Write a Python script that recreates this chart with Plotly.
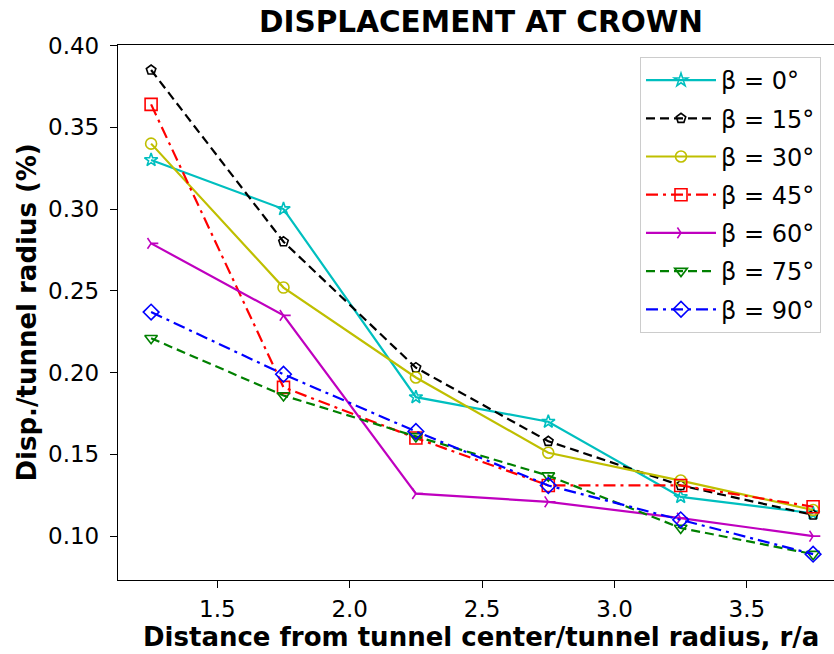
import plotly.graph_objects as go

r_over_a = [1.25, 1.75, 2.25, 2.75, 3.25, 3.75]

beta_labels = ["β = 0°", "β = 15°", "β = 30°", "β = 45°", "β = 60°", "β = 75°", "β = 90°"]

disp_b0 = [0.330, 0.300, 0.185, 0.170, 0.124, 0.114]
disp_b15 = [0.385, 0.280, 0.203, 0.158, 0.131, 0.113]
disp_b30 = [0.340, 0.252, 0.197, 0.151, 0.134, 0.116]
disp_b45 = [0.364, 0.191, 0.160, 0.131, 0.131, 0.118]
disp_b60 = [0.279, 0.235, 0.126, 0.121, 0.111, 0.100]
disp_b75 = [0.221, 0.186, 0.161, 0.137, 0.105, 0.089]
disp_b90 = [0.237, 0.199, 0.164, 0.131, 0.110, 0.089]

series = [disp_b0, disp_b15, disp_b30, disp_b45, disp_b60, disp_b75, disp_b90]

colors = ["#00BFBF", "#000000", "#BFBF00", "#FF0000", "#BF00BF", "#008000", "#0000FF"]
dashes = ["solid", "9px,5px", "solid", "12px,5px,3px,5px", "solid", "9px,5px", "12px,5px,3px,5px"]
symbols = ["star-open", "pentagon-open", "circle-open", "square-open", "y-right-open", "triangle-down-open", "diamond-open"]
sizes = [10, 10, 11, 12, 9, 11, 12]

FONT = "DejaVu Sans"

fig = go.Figure()
for i, (lab, ys) in enumerate(zip(beta_labels, series)):
    fig.add_trace(go.Scatter(
        x=r_over_a, y=ys, name=lab, mode="lines+markers",
        legendgroup=f"g{i}",
        line=dict(color=colors[i], width=2.2, dash=dashes[i]),
        marker=dict(symbol=symbols[i], size=sizes[i], color=colors[i],
                    line=dict(color=colors[i], width=1.6)),
    ))

W, H = 834, 654
L, R, T, B = 118, 0, 45, 74
plot_w = W - L - R
px_per_unit = 264.8
x0 = 1.125
x1 = x0 + plot_w / px_per_unit

fig.update_layout(
    width=W, height=H,
    margin=dict(l=L, r=R, t=T, b=B),
    paper_bgcolor="white", plot_bgcolor="white",
    font=dict(family=FONT, color="black"),
    title=dict(text="<b>DISPLACEMENT AT CROWN</b>", x=481 / W, xanchor="center",
               xref="container", y=1 - 22 / H, yref="container", yanchor="middle",
               font=dict(family=FONT, size=29.5, color="black")),
    showlegend=True,
    legend=dict(x=(640 - L) / plot_w, y=(580 - 57) / 535, xanchor="left", yanchor="top",
                bgcolor="rgba(255,255,255,0.8)", bordercolor="#cccccc", borderwidth=1,
                font=dict(family=FONT, size=24, color="black"),
                tracegroupgap=4, itemwidth=70, traceorder="grouped"),
    xaxis=dict(range=[x0, x1], tickvals=[1.5, 2.0, 2.5, 3.0, 3.5],
               ticktext=["1.5", "2.0", "2.5", "3.0", "3.5"],
               showgrid=False, zeroline=False, showline=True, linecolor="black", linewidth=1.3,
               mirror=True, ticks="outside", ticklen=7, tickwidth=1.3, tickcolor="black",
               tickfont=dict(family=FONT, size=23, color="black"), ticklabelstandoff=1),
    yaxis=dict(range=[0.0732, 0.4003], tickvals=[0.10, 0.15, 0.20, 0.25, 0.30, 0.35, 0.40],
               ticktext=["0.10", "0.15", "0.20", "0.25", "0.30", "0.35", "0.40"],
               showgrid=False, zeroline=False, showline=True, linecolor="black", linewidth=1.3,
               mirror=False, ticks="outside", ticklen=7, tickwidth=1.3, tickcolor="black",
               tickfont=dict(family=FONT, size=23, color="black"), ticklabelstandoff=6),
    annotations=[
        dict(text="<b>Distance from tunnel center/tunnel radius, r/a</b>", xref="paper", yref="paper",
             x=(481 - L) / plot_w, y=(580 - 637) / 535, xanchor="center", yanchor="middle",
             showarrow=False, font=dict(family=FONT, size=26, color="black")),
        dict(text="<b>Disp./tunnel radius (%)</b>", xref="paper", yref="paper",
             x=(26 - L) / plot_w, y=0.5, xanchor="center", yanchor="middle", textangle=-90,
             showarrow=False, font=dict(family=FONT, size=26, color="black")),
    ],
)

fig.write_html("out.html")
